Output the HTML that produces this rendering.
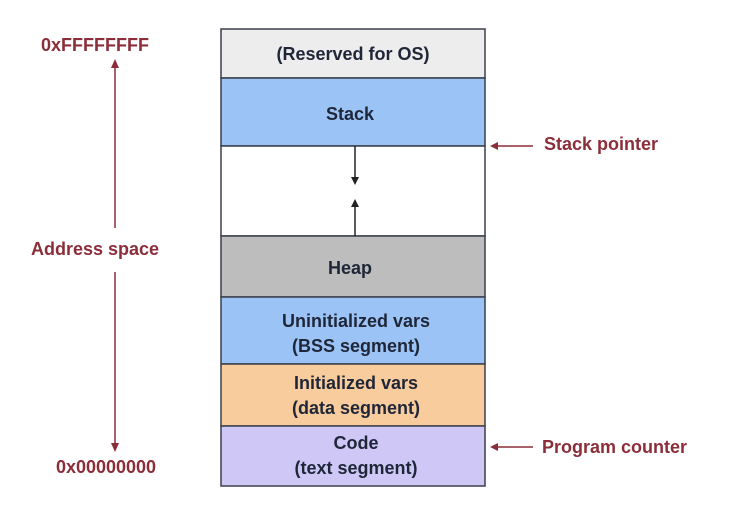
<!DOCTYPE html>
<html><head><meta charset="utf-8"><style>
html,body{margin:0;padding:0;background:#fff;width:744px;height:528px;overflow:hidden}
svg text{font-family:"Liberation Sans",sans-serif;font-weight:bold;font-size:18px}
</style></head><body>
<svg width="744" height="528" viewBox="0 0 744 528" xmlns="http://www.w3.org/2000/svg">
<rect x="0" y="0" width="744" height="528" fill="#fff"/>
<g stroke="#3a3f4a" stroke-width="1.5">
<rect x="221" y="29" width="264" height="49" fill="#ededed"/>
<rect x="221" y="78" width="264" height="68" fill="#9cc3f5"/>
<rect x="221" y="146" width="264" height="90" fill="#ffffff"/>
<rect x="221" y="236" width="264" height="61" fill="#bdbdbd"/>
<rect x="221" y="297" width="264" height="67" fill="#9cc3f5"/>
<rect x="221" y="364" width="264" height="62" fill="#f8cc9c"/>
<rect x="221" y="426" width="264" height="60" fill="#cfc8f7"/>
</g>
<g stroke="#222" stroke-width="1.5">
<line x1="355" y1="146" x2="355" y2="178"/>
<line x1="355" y1="236" x2="355" y2="206"/>
</g>
<polygon points="351,177 359,177 355,185" fill="#222"/>
<polygon points="351,207 359,207 355,199" fill="#222"/>
<g fill="#1f2638" text-anchor="middle">
<text x="353" y="60">(Reserved for OS)</text>
<text x="350" y="120">Stack</text>
<text x="350" y="274">Heap</text>
<text x="356" y="327">Uninitialized vars</text>
<text x="356" y="352">(BSS segment)</text>
<text x="356" y="389">Initialized vars</text>
<text x="356" y="414">(data segment)</text>
<text x="356" y="449">Code</text>
<text x="356" y="474">(text segment)</text>
</g>
<g fill="#8b2e3a" stroke="#8b2e3a" stroke-width="1.5">
<line x1="115" y1="66" x2="115" y2="228"/>
<line x1="115" y1="272" x2="115" y2="444"/>
<polygon points="111,68 119,68 115,59" stroke="none"/>
<polygon points="111,443 119,443 115,452" stroke="none"/>
<line x1="498" y1="146" x2="533" y2="146"/>
<polygon points="498,142 498,150 490,146" stroke="none"/>
<line x1="498" y1="447" x2="533" y2="447"/>
<polygon points="498,443 498,451 490,447" stroke="none"/>
</g>
<g fill="#8b2e3a">
<text x="95" y="51" text-anchor="middle">0xFFFFFFFF</text>
<text x="95" y="255" text-anchor="middle">Address space</text>
<text x="106" y="473" text-anchor="middle">0x00000000</text>
<text x="544" y="150">Stack pointer</text>
<text x="542" y="453">Program counter</text>
</g>
</svg>
</body></html>
